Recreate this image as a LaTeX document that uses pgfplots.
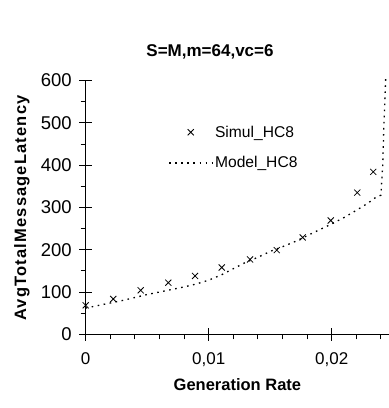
\documentclass[border=0pt]{standalone}
\usepackage{fontspec}
\setmainfont{Liberation Sans}
\usepackage{pgfplots}
\pgfplotsset{compat=1.18}
\begin{document}
\begin{tikzpicture}
\begin{axis}[
 at={(0,0)}, anchor=south west,
 scale only axis, width=303.3bp, height=253.8bp,
 xmin=0, xmax=0.02466, ymin=0, ymax=600,
 axis lines=left, axis line style={-, line width=0.8bp},
 clip=false, scaled x ticks=false,
 xtick={0,0.01,0.02}, xticklabels={0,{0,01},{0,02}},
 minor xtick={0.002,0.004,0.006,0.008,0.012,0.014,0.016,0.018,0.022,0.024},
 ytick={0,100,...,600}, minor ytick={50,150,...,550},
 tick align=center, major tick length=13bp, minor tick length=5bp,
 tick style={line width=0.8bp, black},
 minor x tick style={yshift=-2.5bp}, minor y tick style={xshift=-2.5bp},
 /pgf/number format/assume math mode=true,
 xticklabel style={font=\fontsize{17bp}{20bp}\selectfont, yshift=-8bp},
 yticklabel style={font=\fontsize{18.5bp}{21bp}\selectfont, xshift=-4bp},
 legend style={draw=none, fill=none, at={(axis description cs:0.272,0.83)}, anchor=north west,
   font=\fontsize{15.6bp}{18bp}\selectfont, row sep=14bp, inner sep=0pt},
 legend cell align=left,
 legend image code/.code={\draw[mark repeat=2,mark phase=2,#1] plot coordinates {(0bp,0bp) (21.7bp,0bp) (43.4bp,0bp)};},
]
\addplot[only marks, mark=x, mark size=4.3bp, mark options={line width=0.8bp}] coordinates {
(0,68.6) (0.00224,83.5) (0.00447,104) (0.00672,122) (0.00889,138) (0.01106,158)
(0.01336,177) (0.01553,199) (0.01764,229) (0.01992,269) (0.02208,335) (0.02338,384)};
\addplot[no marks, line width=1.3bp, dash pattern=on 1.6bp off 4.5bp] coordinates {
(0,62) (0.001,68) (0.002,74) (0.003,80) (0.004,87) (0.005,94) (0.006,100) (0.007,106)
(0.008,112) (0.009,119) (0.010,128) (0.011,140) (0.012,155) (0.013,170) (0.014,182)
(0.015,196) (0.016,207) (0.017,219) (0.018,233) (0.019,247) (0.020,261) (0.021,276)
(0.022,293) (0.023,311) (0.0235,322) (0.0240,329) (0.02415,400) (0.02425,500) (0.0244,612)};
\legend{Simul\_HC8, Model\_HC8}
\end{axis}
\node[font=\bfseries\fontsize{17bp}{20bp}\selectfont] at (124.3bp,282.3bp) {S=M,m=64,vc=6};
\node[rotate=90, font=\bfseries\fontsize{16.5bp}{20bp}\selectfont\addfontfeature{LetterSpace=7}] at (-63.7bp,126.3bp) {AvgTotalMessageLatency};
\node[font=\bfseries\fontsize{16.5bp}{20bp}\selectfont] at (151.7bp,-50.7bp) {Generation Rate};
\pgfresetboundingbox
\path (-85.7bp,-73.7bp) rectangle (303.3bp,334.3bp);
\end{tikzpicture}
\end{document}
